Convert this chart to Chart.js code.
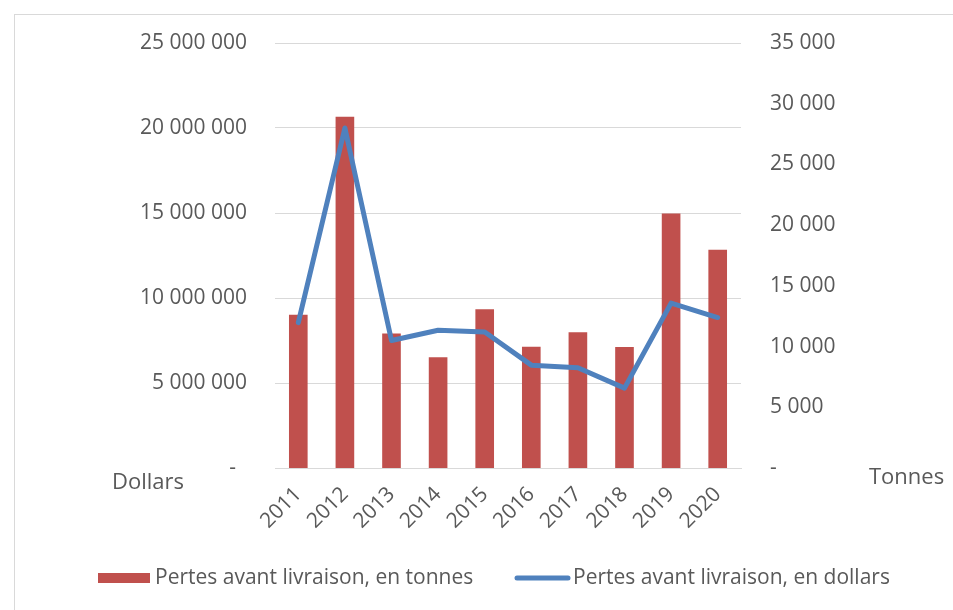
<!DOCTYPE html>
<html>
<head>
<meta charset="utf-8">
<script src="https://cdn.jsdelivr.net/npm/chart.js@4"></script>
<style>
  html, body { margin: 0; padding: 0; background: #fff; }
  #wrap { width: 953px; height: 610px; position: relative; }
</style>
</head>
<body>
<div id="wrap"><canvas id="chart" width="953" height="610"></canvas></div>
<script>
// data
const years = ['2011', '2012', '2013', '2014', '2015', '2016', '2017', '2018', '2019', '2020'];
const tonnes = [12630, 28930, 11070, 9120, 13080, 9990, 11180, 9970, 20950, 17980];
const dollars = [8550000, 20000000, 7500000, 8100000, 8000000, 6050000, 5900000, 4700000, 9700000, 8850000];
const leftTicks = [0, 5000000, 10000000, 15000000, 20000000, 25000000];
const rightTicks = [0, 5000, 10000, 15000, 20000, 25000, 30000, 35000];

const txt = '#595959';
const fnt = {family: 'Open Sans', size: 21};

function fmt(v) {
  if (v === 0) return '-  ';
  return String(v).replace(/\B(?=(\d{3})+(?!\d))/g, ' ');
}

// frame, axis titles and the legend (Excel style)
const extras = {
  id: 'extras',
  beforeDraw(chart) {
    const ctx = chart.ctx;
    ctx.save();
    ctx.strokeStyle = '#D9D9D9';
    ctx.lineWidth = 1;
    ctx.strokeRect(14.5, 14.5, 1000, 1000);
    ctx.restore();
  },
  afterDraw(chart) {
    const ctx = chart.ctx;
    const b = chart.chartArea.bottom;
    const ds = chart.data.datasets;
    ctx.save();
    ctx.fillStyle = txt;
    ctx.font = '22px "Open Sans"';
    ctx.textBaseline = 'middle';
    ctx.textAlign = 'left';
    ctx.fillText('Dollars', 112, b + 15);
    ctx.fillText('Tonnes', 869, b + 10);

    // legend
    const ly = 578;
    ctx.font = '21px "Open Sans"';
    ctx.fillStyle = ds[0].backgroundColor;
    ctx.fillRect(98, ly - 5, 52, 10);
    ctx.fillStyle = txt;
    ctx.fillText(ds[0].label, 155, ly);
    ctx.strokeStyle = ds[1].borderColor;
    ctx.lineWidth = ds[1].borderWidth;
    ctx.lineCap = 'round';
    ctx.beginPath();
    ctx.moveTo(517, ly);
    ctx.lineTo(568, ly);
    ctx.stroke();
    ctx.fillText(ds[1].label, 573, ly);
    ctx.restore();
  }
};

new Chart(document.getElementById('chart'), {
  data: {
    labels: years,
    datasets: [{
      type: 'bar',
      label: 'Pertes avant livraison, en tonnes',
      data: tonnes,
      backgroundColor: '#C0504D',
      yAxisID: 'y1',
      barPercentage: 0.4,
      categoryPercentage: 1,
      order: 1
    }, {
      type: 'line',
      label: 'Pertes avant livraison, en dollars',
      data: dollars,
      borderColor: '#4F81BD',
      backgroundColor: '#4F81BD',
      borderWidth: 5,
      borderCapStyle: 'round',
      borderJoinStyle: 'round',
      pointRadius: 0,
      tension: 0,
      yAxisID: 'y',
      order: 0
    }]
  },
  plugins: [extras],
  options: {
    responsive: false,
    animation: false,
    layout: {padding: {top: 43, bottom: 10, left: 0, right: 0}},
    plugins: {
      tooltip: {enabled: false},
      legend: {display: false}
    },
    scales: {
      x: {
        grid: {display: false},
        border: {color: '#D9D9D9'},
        ticks: {color: txt, font: fnt, minRotation: 45, maxRotation: 45, padding: 6},
        afterFit(s) { s.height = 132; }
      },
      y: {
        position: 'left',
        min: 0, max: 25000000,
        afterBuildTicks(s) { s.ticks = leftTicks.map(v => ({value: v})); },
        grid: {color: '#D9D9D9', drawTicks: false},
        border: {display: false},
        ticks: {color: txt, font: fnt, padding: 28, callback: fmt},
        afterFit(s) { s.width = 275; }
      },
      y1: {
        position: 'right',
        min: 0, max: 35000,
        afterBuildTicks(s) { s.ticks = rightTicks.map(v => ({value: v})); },
        grid: {display: false, drawTicks: false},
        border: {display: false},
        ticks: {color: txt, font: fnt, padding: 29, callback: fmt},
        afterFit(s) { s.width = 212; }
      }
    }
  }
});
</script>
</body>
</html>
